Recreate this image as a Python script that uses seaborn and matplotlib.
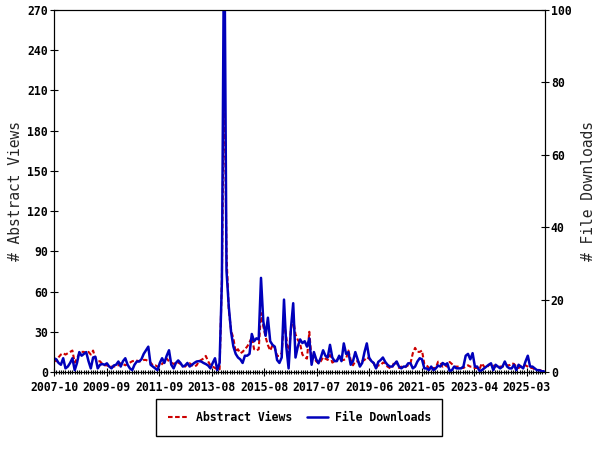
import numpy as np
import matplotlib
matplotlib.use('Agg')
import matplotlib.pyplot as plt
from matplotlib.lines import Line2D
import seaborn as sns

# monthly series, starting 2007-10
tick_labels = ['2007-10', '2009-09', '2011-09', '2013-08', '2015-08',
               '2017-07', '2019-06', '2021-05', '2023-04', '2025-03']

abstract_views = [
    9, 8, 11, 13, 14, 13, 14, 15, 16, 7,
    10, 14, 15, 15, 14, 15, 13, 16, 10, 8,
    8, 6, 5, 5, 4, 4, 4, 4.5, 5, 6.5,
    6, 5, 6, 7, 8, 8.5, 8.5, 8,
    8, 9, 9, 8, 7, 5, 5, 4, 4.5, 6,
    7.7, 10, 8, 7, 6, 7, 7, 6, 5, 4,
    6, 6.5, 5, 4, 5, 8, 9, 10, 12, 8,
    5, 4, 3, 2, 2,
    70, 232, 87, 46, 31, 25, 15, 17, 14, 15,
    17, 19, 22, 26, 17, 16, 17, 44, 34, 26,
    20, 16, 20, 18, 12, 12, 14, 38, 26, 11,
    32, 39, 28, 24, 21, 13,
    11, 10, 30, 9, 11, 8, 6.5, 8, 11, 10,
    9, 12.7, 7, 8, 9, 11, 9, 9, 10, 16,
    9, 5, 8, 8, 6.5, 8, 9, 11, 10, 8,
    6.5, 3, 5, 5, 7, 6.5, 4, 3,
    3, 8, 7, 3, 4, 3, 4, 5, 6.5, 14,
    18, 15, 15, 16, 6, 5, 3, 1.5, 3, 3,
    7.7, 7, 4, 5, 4, 7.5, 6, 4, 4, 4,
    3, 3, 4, 5, 4, 4, 3,
    3, 2, 6.5, 4, 3, 5, 6, 5, 4, 5,
    4, 4, 5, 5, 5, 6.5, 6, 4, 3, 4,
    5, 5, 4, 3, 3, 2, 1.5, 1.5, 1, 1,
]

file_downloads = [
    3.8, 3.5, 2.5, 2, 3.8, 1, 1.5, 2.5, 3.8, 0.5,
    2.5, 5.5, 4.5, 5, 5.5, 3, 1, 4, 4.2, 1,
    2, 2.2, 2, 2.4, 1.5, 1, 1.8, 2, 2.9, 1.5,
    3, 3.8, 2, 1, 0.5, 2, 2.9, 2.9,
    3.5, 5, 6, 7, 2, 1.5, 1, 0.5, 2.5, 3.8,
    2.5, 4.5, 6, 2, 1, 2.5, 3.2, 2.5, 1.5, 1.8,
    2.5, 1.5, 2, 2.5, 2.9, 3, 2.9, 2.5, 2.2, 1.8,
    1, 2.5, 3.8, 0.5, 2.5,
    25, 130, 28, 18, 11, 7, 5, 4, 3.5, 2.5,
    4.5, 4.5, 5, 10.5, 8.5, 9.3, 9, 26, 14, 10,
    15, 8.5, 7.5, 7, 3.3, 2.5, 4, 20, 7, 1,
    12, 19, 4, 7, 9, 8,
    8.5, 7, 9.3, 2, 5.5, 3.5, 2.4, 4, 6, 4.5,
    4, 7.5, 4, 3, 3, 4.5, 3, 7.9, 5, 5.5,
    2, 3, 5.5, 3.5, 1.5, 2.5, 5.5, 7.9, 4, 3,
    2.5, 1, 2.8, 3.3, 4, 2.8, 2, 1.5,
    1.5, 2.2, 2.9, 1.5, 1, 1.5, 1.5, 2.4, 2.4, 1,
    1.5, 2.9, 3.8, 3.5, 1, 1, 0.5, 1.5, 0.5, 1,
    1.8, 1.5, 2.5, 2, 2.4, 0.3, 0.5, 1.5, 1, 1,
    1, 1.5, 4.5, 5, 3.5, 5.2, 1.5,
    1.5, 0.3, 0.5, 1, 1.5, 2, 2.4, 0.5, 2, 1.5,
    1, 1.5, 2.9, 1.5, 1, 1, 2, 0.5, 2, 1.5,
    1, 2.9, 4.5, 1.5, 1.5, 1, 0.5, 0.5, 0.2, 0.2,
]

months = np.arange(len(abstract_views))

RED = '#CC0000'
BLUE = '#0000BB'

sns.set_style('white', {'axes.edgecolor': 'black', 'text.color': 'black',
                        'xtick.color': 'black', 'ytick.color': 'black',
                        'xtick.bottom': True, 'ytick.left': True})
plt.rcParams['font.family'] = ['DejaVu Sans Mono']

fig, ax = plt.subplots(figsize=(6, 4.5), dpi=100)
fig.subplots_adjust(left=54 / 600, right=545 / 600, top=1 - 10 / 450, bottom=1 - 372 / 450)
ax2 = ax.twinx()

dash = (0, (2.2, 1.2))
sns.lineplot(x=months, y=abstract_views, ax=ax, color=RED, linewidth=1.5,
             linestyle=dash)
sns.lineplot(x=months, y=file_downloads, ax=ax2, color=BLUE, linewidth=1.8)

# axes ranges / ticks
step = 52.5 / 2.3
ax.set_xlim(0, 491 / 2.3)
ax.set_xticks([i * step for i in range(len(tick_labels))])
ax.set_xticklabels(tick_labels)
ax.set_xticks(np.arange(0, 491 / 2.3, step / 23), minor=True)
ax.set_ylim(0, 270)
ax.set_yticks(np.arange(0, 271, 30))
ax2.set_ylim(0, 100)
ax2.set_yticks(np.arange(0, 101, 20))

tick_font = {'family': 'DejaVu Sans Mono', 'weight': 'bold', 'size': 8.3}
for lab in ax.get_xticklabels() + ax.get_yticklabels() + ax2.get_yticklabels():
    lab.set_fontproperties(tick_font)

ax.tick_params(axis='x', which='major', direction='inout', length=5.8, width=0.8, pad=3.5,
               bottom=True, top=False)
ax.tick_params(axis='x', which='minor', direction='inout', length=3.4, width=0.8,
               bottom=True, top=False)
ax.tick_params(axis='y', which='major', direction='inout', length=5.8, width=0.8, pad=1.4,
               left=True, right=False)
ax2.tick_params(axis='y', which='major', direction='inout', length=5.8, width=0.8, pad=1.3,
                right=True, left=False)
ax2.tick_params(axis='x', which='both', bottom=False, top=False)

for a in (ax, ax2):
    for sp in a.spines.values():
        sp.set_color('black')
        sp.set_linewidth(0.8)

ax.set_xlabel('')
ax.set_ylabel('# Abstract Views', fontsize=10.5, labelpad=3)
ax2.set_ylabel('# File Downloads', fontsize=10.5, labelpad=7)

handles = [Line2D([], [], color=RED, linewidth=1.5, linestyle=dash),
           Line2D([], [], color=BLUE, linewidth=1.8)]
leg = fig.legend(handles, ['Abstract Views', 'File Downloads'], loc='center',
                 bbox_to_anchor=(0.499, 1 - 417.5 / 450), ncol=2, frameon=True,
                 fancybox=False, edgecolor='black', framealpha=1,
                 handlelength=1.8, handletextpad=0.6, columnspacing=1.3,
                 borderpad=1.0, prop=tick_font)
leg.get_frame().set_linewidth(1.0)

fig.savefig('out.png', dpi=100)
